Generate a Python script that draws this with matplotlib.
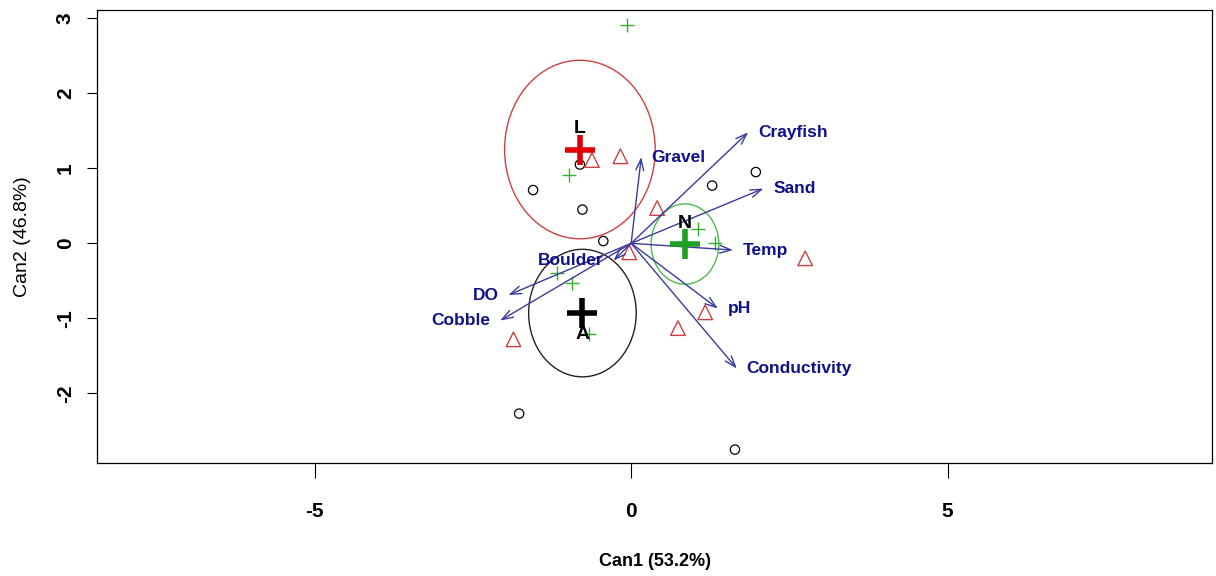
import matplotlib
matplotlib.use("Agg")
import matplotlib.pyplot as plt
from matplotlib.patches import Ellipse

plt.rcParams["axes.unicode_minus"] = False

# canonical scores per group
a_can1 = [-1.55, -0.81, -0.77, -0.44, 1.28, 1.97, -1.77, 1.64]
a_can2 = [0.71, 1.05, 0.45, 0.03, 0.77, 0.95, -2.27, -2.75]
l_can1 = [-0.62, -0.17, 0.41, -0.03, 2.75, -1.86, 1.17, 0.74]
l_can2 = [1.11, 1.16, 0.47, -0.12, -0.20, -1.28, -0.92, -1.13]
n_can1 = [-0.06, -0.98, 1.06, 1.33, -1.17, -0.93, -0.66]
n_can2 = [2.91, 0.91, 0.19, 0.01, -0.39, -0.53, -1.21]

# group means and circle radii
groups = ["A", "L", "N"]
mean_can1 = [-0.77, -0.81, 0.85]
mean_can2 = [-0.93, 1.25, -0.01]
radius = [0.85, 1.19, 0.535]

# structure vectors
vars_ = ["Gravel", "Crayfish", "Sand", "Temp", "pH", "Conductivity", "DO", "Cobble", "Boulder"]
vec_can1 = [0.16, 1.85, 2.09, 1.61, 1.37, 1.67, -1.94, -2.07, -0.28]
vec_can2 = [1.15, 1.48, 0.73, -0.09, -0.87, -1.67, -0.69, -1.03, -0.23]

FONT = ["Liberation Sans", "DejaVu Sans"]

fig = plt.figure(figsize=(12.16, 5.76), dpi=100)
ax = fig.add_axes([0.0798, 0.196, 0.917, 0.7866])

red_pt = "#cc4040"
green_pt = "#33b033"

ax.scatter(a_can1, a_can2, s=45, facecolors="none", edgecolors="black", linewidths=0.9, zorder=3)
ax.scatter(l_can1, l_can2, s=110, marker="^", facecolors="none", edgecolors=red_pt, linewidths=1.0, zorder=3)
ax.scatter(n_can1, n_can2, s=90, marker="+", c=green_pt, linewidths=1.0, zorder=3)

big_cols = ["black", "#e00000", "#1fa01f"]
ring_cols = ["#222222", red_pt, "#4cbb4c"]
label_off = [-21, 21, 21]
for g, mx, my, r, bc, rc, off in zip(groups, mean_can1, mean_can2, radius, big_cols, ring_cols, label_off):
    ax.add_patch(Ellipse((mx, my), 2 * r, 2 * r, fill=False, ec=rc, lw=1.0, zorder=2))
    ax.plot(mx, my, marker="+", ms=22, mew=4, color=bc, zorder=5)
    ax.annotate(g, (mx, my), xytext=(0, off * 0.72), textcoords="offset points",
                ha="center", va="center", fontsize=14, fontweight="bold",
                family=FONT, color="black", zorder=6)

for name, vx, vy in zip(vars_, vec_can1, vec_can2):
    ax.annotate("", xy=(vx, vy), xytext=(0, 0),
                arrowprops=dict(arrowstyle="->,head_length=0.8,head_width=0.28",
                                color="#3b3b9c", lw=1.0, shrinkA=0, shrinkB=0), zorder=4)
    dx = 7 if vx > 0 else -7
    ax.annotate(name, (vx, vy), xytext=(dx, 0), textcoords="offset points",
                ha="left" if vx > 0 else "right", va="center",
                fontsize=12.5, fontweight="bold", family=FONT, color="#10108a", zorder=6)

ax.set_xlim(-8.44, 9.18)
ax.set_ylim(-2.93, 3.11)
ax.set_xticks([-5, 0, 5])
ax.set_yticks([-2, -1, 0, 1, 2, 3])
ax.tick_params(axis="x", length=11, width=0.8, pad=17, labelsize=15)
ax.tick_params(axis="y", length=7, width=0.8, pad=9, labelsize=15, labelrotation=90)
for lab in ax.get_xticklabels() + ax.get_yticklabels():
    lab.set_family(FONT)
    lab.set_fontweight("bold")
for lab in ax.get_yticklabels():
    lab.set_va("center")
for sp in ax.spines.values():
    sp.set_linewidth(0.9)

ax.set_xlabel("Can1 (53.2%)", fontsize=13, fontweight="bold", family=FONT, labelpad=23)
ax.set_ylabel("Can2 (46.8%)", fontsize=14, family=FONT, labelpad=18)

fig.savefig("out.png", dpi=100)
